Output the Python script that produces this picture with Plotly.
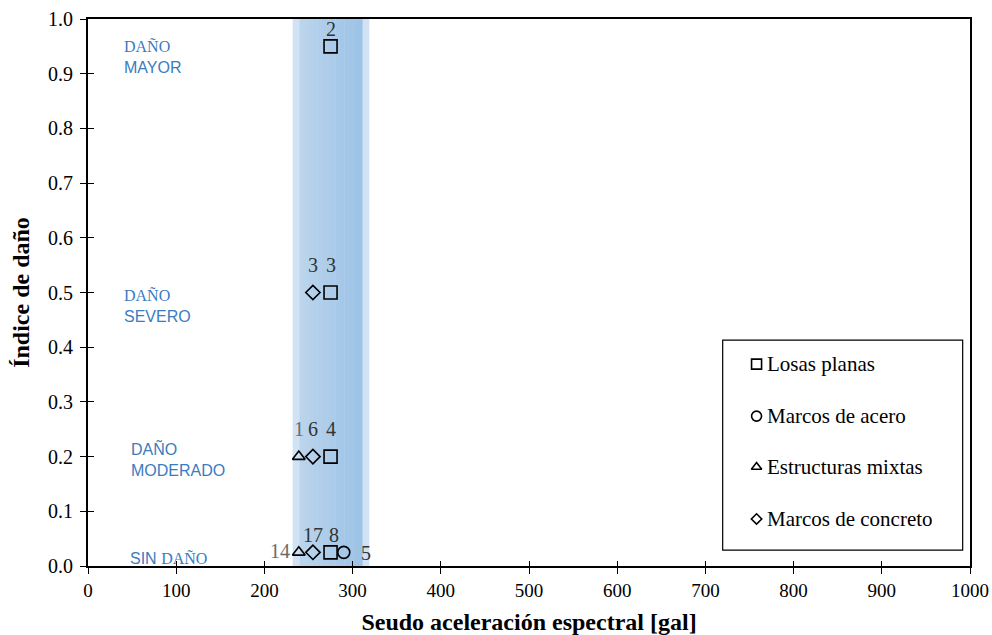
import plotly.graph_objects as go

# ---------------- data ----------------
losas_x = [275, 275, 275, 275]
losas_y = [0.95, 0.5, 0.2, 0.025]
losas_n = ["2", "3", "4", "8"]

acero_x = [290]
acero_y = [0.025]
acero_n = ["5"]

mixtas_x = [239, 239]
mixtas_y = [0.2, 0.025]
mixtas_n = ["1", "14"]

concreto_x = [255, 255, 255]
concreto_y = [0.5, 0.2, 0.025]
concreto_n = ["3", "6", "17"]

band_outer = [232, 319]
band_inner = [240, 311]

series_names = ["Losas planas", "Marcos de acero", "Estructuras mixtas", "Marcos de concreto"]

zone_x = [39, 39, 47, 45]
zone_y = [0.931, 0.475, 0.1965, 0.0146]

x_ticks = list(range(0, 1001, 100))
y_ticks = [round(i * 0.1, 1) for i in range(11)]

SERIF = "Liberation Serif"
SANS = "Liberation Sans"

fig = go.Figure()

# band (light outer + gradient inner)
fig.add_shape(type="rect", xref="x", yref="y", x0=band_outer[0], x1=band_outer[1],
              y0=0, y1=1, fillcolor="#d0e2f3", line_width=0, layer="below")
nstrip = 14
c0 = (186, 212, 236)
c1 = (157, 195, 230)
w = (band_inner[1] - band_inner[0]) / nstrip
for i in range(nstrip):
    t = i / (nstrip - 1)
    col = "rgb(%d,%d,%d)" % tuple(round(a + (b - a) * t) for a, b in zip(c0, c1))
    fig.add_shape(type="rect", xref="x", yref="y",
                  x0=band_inner[0] + i * w, x1=band_inner[0] + (i + 1) * w + 0.3,
                  y0=0, y1=1, fillcolor=col, line_width=0, layer="below")

mk_line = dict(color="black", width=1.6)
series = [
    (series_names[0], losas_x, losas_y, "square-open", 13, 10),
    (series_names[1], acero_x, acero_y, "circle-open", 12, 10),
    (series_names[2], mixtas_x, mixtas_y, "triangle-up-open", 11, 9),
    (series_names[3], concreto_x, concreto_y, "diamond-open", 11, 8),
]
for name, xs, ys, sym, sz, lsz in series:
    fig.add_trace(go.Scatter(x=xs, y=ys, mode="markers", showlegend=False, name=name,
                             marker=dict(symbol=sym, size=sz, color="black",
                                         line=mk_line), hoverinfo="skip"))

# number labels: (xshift, yshift, color) per label
lab_style = {
    ("losas", 0): (0, 17, "#333333"),
    ("losas", 1): (0, 28, "#333333"),
    ("losas", 2): (0, 28, "#333333"),
    ("losas", 3): (3, 17, "#333333"),
    ("acero", 0): (22, -1, "#333333"),
    ("mixtas", 0): (0, 28, "#6b6b6b"),
    ("mixtas", 1): (-19, 1, "#6b6b6b"),
    ("concreto", 0): (0, 28, "#333333"),
    ("concreto", 1): (0, 28, "#333333"),
    ("concreto", 2): (0, 17, "#333333"),
}
groups = {"losas": (losas_x, losas_y, losas_n), "acero": (acero_x, acero_y, acero_n),
          "mixtas": (mixtas_x, mixtas_y, mixtas_n),
          "concreto": (concreto_x, concreto_y, concreto_n)}
for g, (xs, ys, ns) in groups.items():
    for i, (xv, yv, nv) in enumerate(zip(xs, ys, ns)):
        dx, dy, col = lab_style[(g, i)]
        fig.add_annotation(x=xv, y=yv, text=nv, showarrow=False, xshift=dx, yshift=dy,
                           font=dict(family=SERIF, size=20, color=col))

# zone labels
zone_fmt = [
    '<span style="font-family:Liberation Serif">DAÑO</span><br>MAYOR',
    '<span style="font-family:Liberation Serif">DAÑO</span><br>SEVERO',
    'DAÑO<br>MODERADO',
    'SIN <span style="font-family:Liberation Serif">DAÑO</span>',
]
for txt, xv, yv in zip(zone_fmt, zone_x, zone_y):
    fig.add_annotation(x=xv, y=yv, text=txt, showarrow=False, xanchor="left",
                       align="left", font=dict(family=SANS, size=16, color="#3a7cc0"))

# manual legend (box, markers, texts) in paper space
fig.add_shape(type="rect", xref="paper", yref="paper", x0=0.7196, x1=0.9917,
              y0=0.029, y1=0.413, line=dict(color="black", width=1.2),
              fillcolor="white", layer="below")
leg_rows = [0.369, 0.274, 0.181, 0.086]
for (name, xs, ys, sym, sz, lsz), ry in zip(series, leg_rows):
    fig.add_trace(go.Scatter(x=[0.758], y=[ry], xaxis="x3", yaxis="y3", mode="markers",
                             showlegend=False, hoverinfo="skip", cliponaxis=False,
                             marker=dict(symbol=sym, size=lsz, color="black",
                                         line=dict(color="black", width=1.6))))
    fig.add_annotation(xref="paper", yref="paper", x=0.7675, y=ry, text=name,
                       showarrow=False, xanchor="left", yanchor="middle",
                       font=dict(family=SERIF, size=21, color="black"))

# inside-tick overlay axes
fig.add_trace(go.Scatter(x=[None], y=[None], xaxis="x2", yaxis="y2", showlegend=False))

axis_common = dict(showgrid=False, zeroline=False, ticks="outside", ticklen=6,
                   tickwidth=1.2, tickcolor="black", showline=True, linecolor="black",
                   linewidth=1.8, mirror=True, automargin=False)

fig.update_layout(
    width=992, height=635,
    margin=dict(l=88, r=22, t=19, b=69, autoexpand=False),
    plot_bgcolor="white", paper_bgcolor="white",
    showlegend=False,
    xaxis=dict(range=[0, 1000], tickvals=x_ticks, ticktext=[str(v) for v in x_ticks],
               tickfont=dict(family=SERIF, size=19, color="black"),
               title=dict(text="<b>Seudo aceleración espectral [gal]</b>",
                          font=dict(family=SERIF, size=24, color="black"), standoff=13),
               **axis_common),
    yaxis=dict(range=[0, 1], tickvals=y_ticks, ticktext=["%.1f" % v for v in y_ticks],
               tickfont=dict(family=SERIF, size=20, color="black"), ticklabelstandoff=3,
               title=dict(text="<b>Índice de daño</b>",
                          font=dict(family=SERIF, size=24, color="black"), standoff=12),
               **axis_common),
    xaxis2=dict(range=[0, 1000], overlaying="x", tickvals=x_ticks, showticklabels=False,
                ticks="inside", ticklen=5, tickwidth=1.2, tickcolor="black",
                showgrid=False, zeroline=False, showline=False, anchor="y2", side="bottom"),
    yaxis2=dict(range=[0, 1], overlaying="y", tickvals=y_ticks, showticklabels=False,
                ticks="inside", ticklen=6, tickwidth=1.2, tickcolor="black",
                showgrid=False, zeroline=False, showline=False, anchor="x2", side="left"),
    xaxis3=dict(range=[0, 1], overlaying="x", visible=False, anchor="y3"),
    yaxis3=dict(range=[0, 1], overlaying="y", visible=False, anchor="x3"),
)

fig.write_html("out.html", config={"displayModeBar": False},
               post_script="document.body.style.margin='0px';document.body.style.overflow='hidden';")
